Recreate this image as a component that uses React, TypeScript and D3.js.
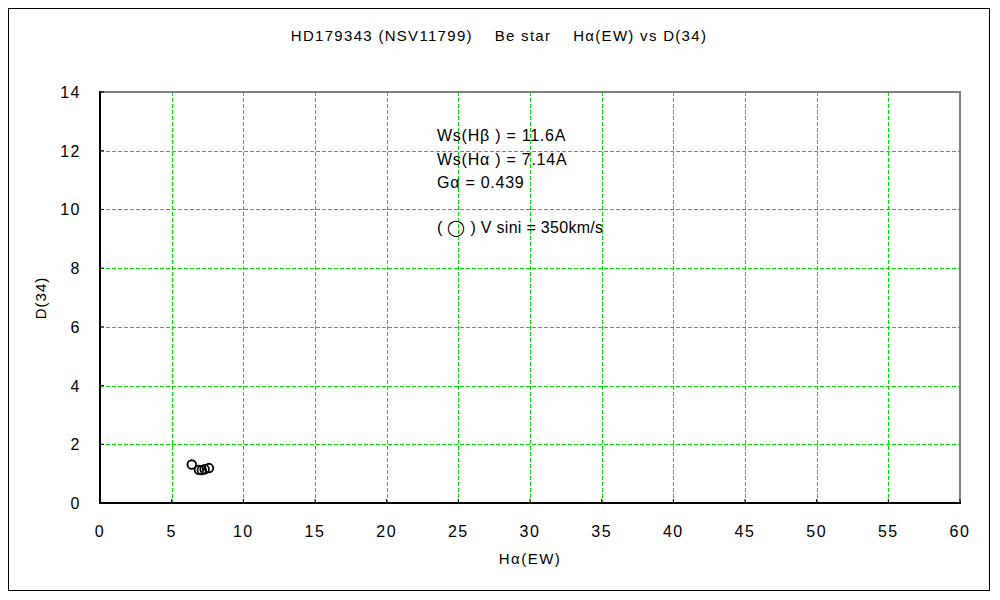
import React from "react";
import * as d3 from "d3";

const xTicks = [0, 5, 10, 15, 20, 25, 30, 35, 40, 45, 50, 55, 60];
const yTicks = [0, 2, 4, 6, 8, 10, 12, 14];
const haEW = [6.4, 6.9, 7.1, 7.3, 7.6];
const d34 = [1.31, 1.13, 1.12, 1.15, 1.19];
const titleText = "HD179343 (NSV11799)    Be star    Hα(EW) vs D(34)";
const notes = ["Ws(Hβ ) = 11.6A", "Ws(Hα ) = 7.14A", "Gα = 0.439"];
const legendText = "( ◯ ) V sini = 350km/s";

const W = 1000, H = 600;
const left = 100, right = 960, top = 92, bottom = 503;
const FONT = "'Liberation Sans', Arial, sans-serif";

export default function App() {
  const x = d3.scaleLinear().domain([0, 60]).range([left, right]);
  const y = d3.scaleLinear().domain([0, 14]).range([bottom, top]);
  return (
    <svg width={W} height={H} style={{ position: "absolute", left: 0, top: 0, background: "#fff" }} fontFamily={FONT}>
      <rect x={0} y={0} width={W} height={H} fill="#fff" />
      <rect x={8.5} y={8.5} width={981} height={582} fill="none" stroke="#000" strokeWidth={1} />
      <text x={499} y={41} textAnchor="middle" fontSize={15} letterSpacing={1.3} style={{ whiteSpace: "pre" }}>{titleText}</text>
      {/* grid */}
      {xTicks.filter(t => t > 0 && t < 60).map(t => (
        <line key={"gx" + t} x1={Math.round(x(t)) + 0.5} x2={Math.round(x(t)) + 0.5} y1={top} y2={bottom}
          stroke="#00e000" strokeWidth={1} strokeDasharray="4,2" />
      ))}
      {yTicks.filter(t => t > 0 && t < 14).map(t => (
        <line key={"gy" + t} y1={Math.round(y(t)) + 0.5} y2={Math.round(y(t)) + 0.5} x1={left} x2={right}
          stroke="#00e000" strokeWidth={1} strokeDasharray="4,2" />
      ))}
      {/* frame */}
      <line x1={left} x2={right + 1} y1={top} y2={top} stroke="#808080" strokeWidth={2} />
      <line x1={right} x2={right} y1={top} y2={bottom} stroke="#808080" strokeWidth={2} />
      <line x1={left} x2={left} y1={top - 1} y2={bottom + 1} stroke="#000" strokeWidth={2} />
      <line x1={left - 1} x2={right + 1} y1={bottom} y2={bottom} stroke="#000" strokeWidth={2} />
      {/* ticks */}
      {xTicks.map(t => (
        <g key={"tx" + t}>
          <line x1={x(t)} x2={x(t)} y1={bottom} y2={bottom - 4} stroke="#000" strokeWidth={1} />
          <text x={x(t)} y={537} textAnchor="middle" fontSize={16} letterSpacing={1.5}>{t}</text>
        </g>
      ))}
      {yTicks.map(t => (
        <g key={"ty" + t}>
          <line x1={left} x2={left + 4} y1={y(t)} y2={y(t)} stroke="#000" strokeWidth={1} />
          <text x={81} y={y(t) + 6} textAnchor="end" fontSize={16} letterSpacing={1.5}>{t}</text>
        </g>
      ))}
      {/* axis titles */}
      <text x={530} y={564} textAnchor="middle" fontSize={15} letterSpacing={1.5}>Hα(EW)</text>
      <text transform={`translate(46,298) rotate(-90)`} textAnchor="middle" fontSize={15} letterSpacing={1}>D(34)</text>
      {/* notes */}
      {notes.map((n, i) => (
        <text key={n} x={437} y={141 + i * 23.5} fontSize={16} letterSpacing={0.75} style={{ whiteSpace: "pre" }}>{n}</text>
      ))}
      <text x={437} y={233} fontSize={16} letterSpacing={0.3} style={{ whiteSpace: "pre" }}>{legendText}</text>
      {/* points */}
      {haEW.map((v, i) => (
        <circle key={i} cx={x(v)} cy={y(d34[i])} r={4.3} fill="none" stroke="#000" strokeWidth={1.8} />
      ))}
    </svg>
  );
}
